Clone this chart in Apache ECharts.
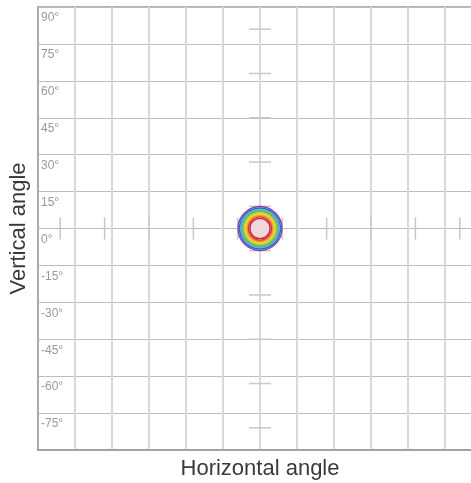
<!DOCTYPE html>
<html>
<head>
<meta charset="utf-8">
<script src="https://cdn.jsdelivr.net/npm/echarts@6/dist/echarts.min.js"></script>
<style>html,body{margin:0;padding:0;background:#fff}#c{width:471px;height:483px}</style>
</head>
<body>
<div id="c"></div>
<script>
// Axis ticks (degrees)
const yTickValues = [-90, -75, -60, -45, -30, -15, 0, 15, 30, 45, 60, 75, 90];
const crossTickAngles = [-81, -63, -45, -27, -9, 9, 27, 45, 63, 81];
// Contour rings: radius in degrees (outer to inner), stroke and fill colours
const ringRadii = [8.9, 8.3, 7.7, 7.1, 6.5, 5.9, 5.3, 4.7, 4.1];
const ringStroke = ['#8e3fa6', '#2f64d0', '#4fb8e6', '#62b94a', '#b5d33e', '#f2cf3c', '#f09c2e', '#d93a3a', '#c8283c'];
const ringFill = ['#f4eef8', '#5f9ae6', '#7fd0ea', '#86c960', '#c4dd5a', '#f5d85a', '#f5b850', '#f6e0e4', 'rgba(236,205,214,0.55)'];
const xAxisName = 'Horizontal angle';
const yAxisName = 'Vertical angle';

const chart = echarts.init(document.getElementById('c'), null, {renderer: 'canvas'});
const font = 'Liberation Sans, Arial, sans-serif';

const ringData = ringRadii.map((r, i) => [0, 0, r, i]);
const crossData = [];
crossTickAngles.forEach(a => { crossData.push([0, a, 'v']); crossData.push([a, 0, 'h']); });

chart.setOption({
  animation: false,
  grid: {left: 38, top: 7, width: 444, height: 443, show: true, borderColor: '#9a9a9a', borderWidth: 1.5,
         outerBoundsMode: 'none', containLabel: false},
  xAxis: {
    type: 'value', min: -90, max: 90, interval: 15,
    name: xAxisName, nameLocation: 'middle', nameGap: 8,
    nameTextStyle: {fontSize: 22, color: '#3a3a3a', fontFamily: font},
    axisLine: {show: true, onZero: false, lineStyle: {color: '#9a9a9a', width: 1.5}},
    axisTick: {show: false}, axisLabel: {show: false},
    splitLine: {show: true, lineStyle: {color: '#d9d9d9', width: 2}}
  },
  yAxis: {
    type: 'value', min: -90, max: 90, interval: 15,
    name: yAxisName, nameLocation: 'middle', nameGap: 7,
    nameTextStyle: {fontSize: 22, color: '#3a3a3a', fontFamily: font},
    axisLine: {show: true, onZero: false, lineStyle: {color: '#9a9a9a', width: 1.5}},
    axisTick: {show: false},
    axisLabel: {
      inside: true, showMinLabel: false, verticalAlign: 'top', margin: 3, padding: [5, 0, 0, 0],
      color: '#999999', fontSize: 12, fontFamily: font,
      formatter: v => v + '°'
    },
    splitLine: {show: true, lineStyle: {color: '#bdbdbd', width: 1}}
  },
  series: [
    {
      type: 'custom', coordinateSystem: 'cartesian2d', data: crossData, silent: true, z: 1,
      renderItem: function (params, api) {
        const x = api.value(0), y = api.value(1);
        const c = api.coord([x, y]);
        const half = api.size([4.5, 4.5]);
        const vertical = crossData[params.dataIndex][2] === 'h';
        const shape = vertical
          ? {x1: c[0], y1: c[1] - half[1], x2: c[0], y2: c[1] + half[1]}
          : {x1: c[0] - half[0], y1: c[1], x2: c[0] + half[0], y2: c[1]};
        return {type: 'line', shape: shape, style: {stroke: '#c8c8c8', lineWidth: 1.5}};
      }
    },
    {
      type: 'custom', coordinateSystem: 'cartesian2d', data: ringData, silent: true, z: 2,
      renderItem: function (params, api) {
        const c = api.coord([api.value(0), api.value(1)]);
        const r = api.size([api.value(2), 0])[0];
        const i = api.value(3);
        return {type: 'circle', shape: {cx: c[0], cy: c[1], r: r},
          style: {fill: ringFill[i], stroke: ringStroke[i], lineWidth: 1.4}};
      }
    }
  ]
});
</script>
</body>
</html>
